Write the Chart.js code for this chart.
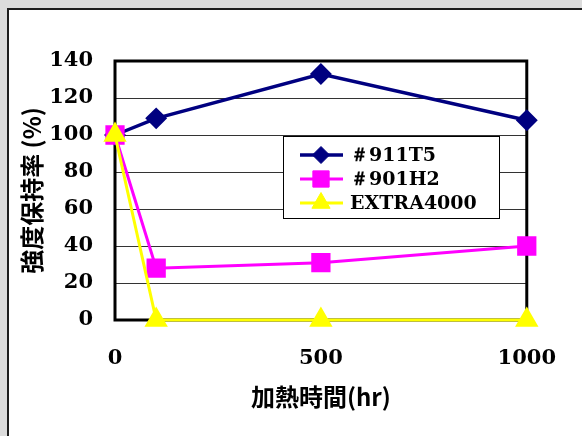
<!DOCTYPE html>
<html>
<head>
<meta charset="utf-8">
<script src="https://cdn.jsdelivr.net/npm/chart.js@4/dist/chart.umd.min.js"></script>
<style>
  body { margin: 0; background: #dcdcdc; }
  canvas { display: block; }
</style>
</head>
<body>
<canvas id="retention-chart" width="582" height="436"></canvas>
<script>
// heating time (hr) and strength retention (%)
var hours = [0, 100, 500, 1000];
var t5 = [100, 109, 133, 108];
var h2 = [100, 28, 31, 40];
var extra = [100, 0, 0, 0];
var names = ['＃911T5', '＃901H2', 'EXTRA4000'];
var xTicks = [0, 500, 1000];
var yTicks = [0, 20, 40, 60, 80, 100, 120, 140];

var serif = "'DejaVu Serif', 'Liberation Serif', serif";
var gothic = "'Noto Sans CJK JP', 'Noto Sans', sans-serif";

function points(values){
    var out = [];
    for(var i = 0; i < hours.length; i++){
        out.push({x: hours[i], y: values[i]});
    }
    return out;
}

function plain(value){
    return String(value);
}

// gray window with the white panel
var panel = {
    id: 'panel',
    beforeDraw: function(chart){
        var ctx = chart.ctx;
        ctx.save();
        ctx.fillStyle = '#dcdcdc';
        ctx.fillRect(0, 0, chart.width, chart.height);
        ctx.fillStyle = '#1e1e1e';
        ctx.fillRect(7, 8, chart.width, chart.height);
        ctx.fillStyle = '#ffffff';
        ctx.fillRect(9, 10, chart.width, chart.height);
        ctx.restore();
    }
};

// thick black box round the plot area
var plotBox = {
    id: 'plotBox',
    beforeDatasetsDraw: function(chart){
        var a = chart.chartArea;
        var ctx = chart.ctx;
        ctx.save();
        ctx.strokeStyle = '#000000';
        ctx.lineWidth = 3;
        ctx.strokeRect(a.left, a.top, a.right - a.left, a.bottom - a.top);
        ctx.restore();
    }
};

// legend box sitting inside the plot
var boxLegend = {
    id: 'boxLegend',
    afterDatasetsDraw: function(chart){
        var ctx = chart.ctx;
        var a = chart.chartArea;
        var left = a.left + 168, top = a.top + 75, w = 216, h = 82;
        ctx.save();
        ctx.fillStyle = '#ffffff';
        ctx.fillRect(left, top, w, h);
        ctx.strokeStyle = '#000000';
        ctx.lineWidth = 1;
        ctx.strokeRect(left + 0.5, top + 0.5, w, h);
        ctx.font = 'bold 19px ' + serif;
        ctx.textBaseline = 'middle';
        chart.data.datasets.forEach(function(ds, i){
            var y = top + 19 + i * 24;
            ctx.strokeStyle = ds.borderColor;
            ctx.lineWidth = ds.borderWidth;
            ctx.beginPath();
            ctx.moveTo(left + 17, y);
            ctx.lineTo(left + 60, y);
            ctx.stroke();
            ctx.fillStyle = ds.backgroundColor;
            ctx.lineWidth = 1;
            Chart.helpers.drawPoint(ctx, {pointStyle: ds.pointStyle, radius: ds.pointRadius, borderWidth: 1}, left + 38, y);
            ctx.fillStyle = '#000000';
            ctx.fillText(ds.label, left + 67, y + 1);
        });
        ctx.restore();
    }
};

new Chart(document.getElementById('retention-chart'), {
    type: 'line',
    data: {
        datasets: [
            {
                label: names[0],
                data: points(t5),
                borderColor: '#000080',
                backgroundColor: '#000080',
                borderWidth: 3.5,
                pointStyle: 'rectRot',
                pointRadius: 8.5,
                order: 2
            },
            {
                label: names[1],
                data: points(h2),
                borderColor: '#ff00ff',
                backgroundColor: '#ff00ff',
                borderWidth: 3,
                pointStyle: 'rect',
                pointRadius: 11.5,
                order: 1
            },
            {
                label: names[2],
                data: points(extra),
                borderColor: '#ffff00',
                backgroundColor: '#ffff00',
                borderWidth: 3,
                pointStyle: 'triangle',
                pointRadius: 10.5,
                order: 0
            }
        ]
    },
    options: {
        responsive: false,
        animation: false,
        clip: false,
        layout: { padding: { left: 0, top: 61, right: 55, bottom: 0 } },
        elements: { line: { tension: 0 }, point: { borderWidth: 1, hoverRadius: 8 } },
        scales: {
            x: {
                type: 'linear',
                min: 0,
                max: 1000,
                afterBuildTicks: function(scale){
                    scale.ticks = xTicks.map(function(v){ return {value: v}; });
                },
                afterFit: function(scale){ scale.height = 116; },
                grid: { display: false, drawTicks: false },
                border: { display: false },
                ticks: {
                    padding: 26,
                    color: '#000000',
                    callback: plain,
                    font: { family: serif, size: 21, weight: 'bold' }
                },
                title: {
                    display: true,
                    text: '加熱時間(hr)',
                    color: '#000000',
                    padding: { top: 0, bottom: 25 },
                    font: { family: gothic, size: 24, weight: 'bold' }
                }
            },
            y: {
                min: 0,
                max: 140,
                afterBuildTicks: function(scale){
                    scale.ticks = yTicks.map(function(v){ return {value: v}; });
                },
                afterFit: function(scale){ scale.width = 115; },
                grid: { color: '#333333', lineWidth: 1, drawTicks: false },
                border: { display: false },
                ticks: {
                    padding: 22,
                    color: '#000000',
                    callback: plain,
                    font: { family: serif, size: 21, weight: 'bold' }
                },
                title: {
                    display: true,
                    text: '強度保持率 (%)',
                    color: '#000000',
                    padding: { top: 17, bottom: 0 },
                    font: { family: gothic, size: 24, weight: 'bold' }
                }
            }
        },
        plugins: {
            legend: { display: false },
            tooltip: { enabled: false }
        }
    },
    plugins: [panel, plotBox, boxLegend]
});
</script>
</body>
</html>
